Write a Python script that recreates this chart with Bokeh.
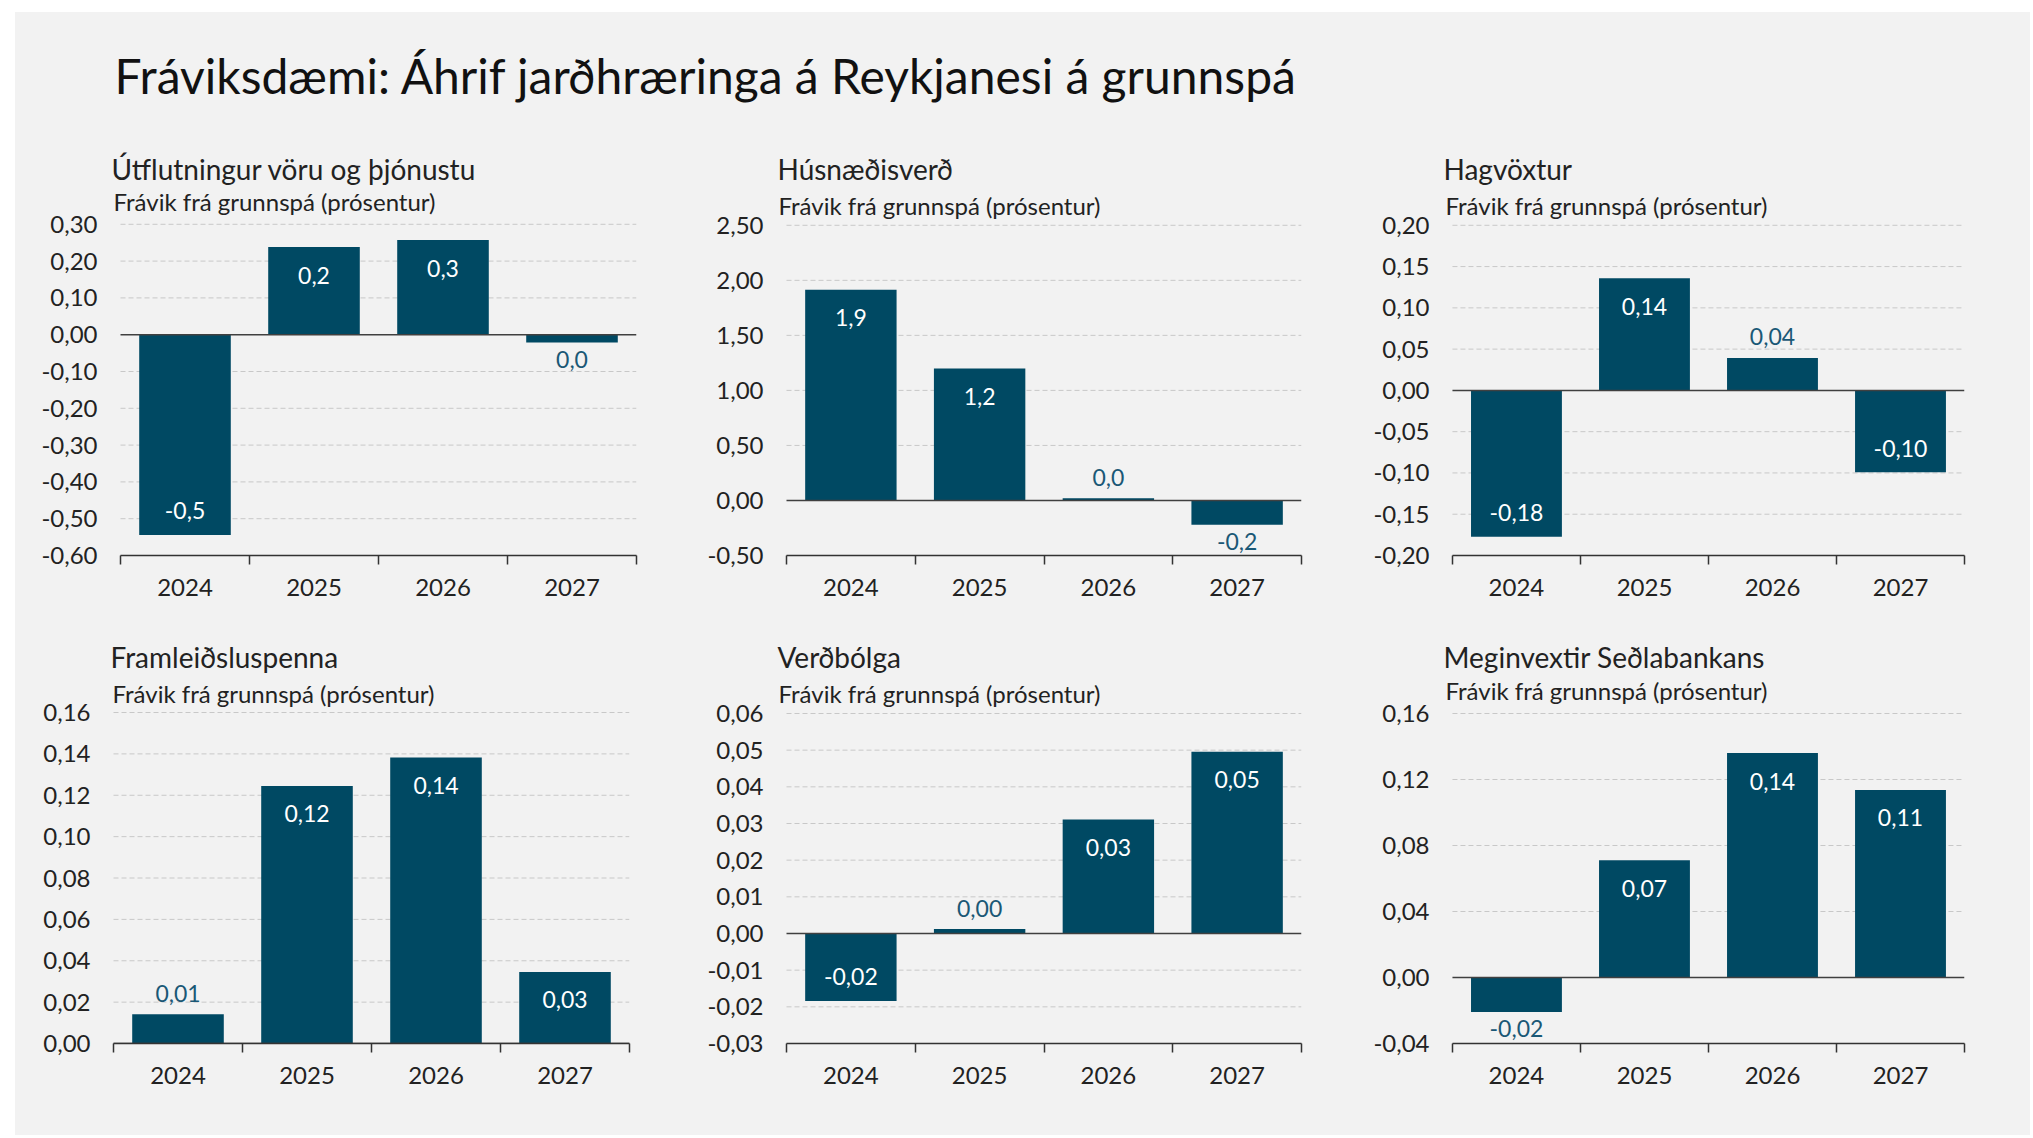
from bokeh.plotting import figure
from bokeh.models import (ColumnDataSource, Range1d, FixedTicker, Label)
from bokeh.layouts import column, row
from bokeh.core.properties import value
from bokeh.embed import file_html
from bokeh.resources import INLINE

# ---------------- data ----------------
main_title = "Fráviksdæmi: Áhrif jarðhræringa á Reykjanesi á grunnspá"
subtitle = "Frávik frá grunnspá (prósentur)"
years = ["2024", "2025", "2026", "2027"]

titles = ["Útflutningur vöru og þjónustu", "Húsnæðisverð", "Hagvöxtur",
          "Framleiðsluspenna", "Verðbólga", "Meginvextir Seðlabankans"]

utflutningur = [-0.544, 0.238, 0.257, -0.021]
husnaedisverd = [1.915, 1.199, 0.021, -0.221]
hagvoxtur = [-0.1774, 0.136, 0.0393, -0.0993]
framleidsluspenna = [0.0141, 0.1245, 0.1383, 0.0346]
verdbolga = [-0.0184, 0.0012, 0.0311, 0.0496]
meginvextir = [-0.0209, 0.0710, 0.136, 0.1137]

ticks_1 = [-0.6, -0.5, -0.4, -0.3, -0.2, -0.1, 0.0, 0.1, 0.2, 0.3]
ticks_2 = [-0.5, 0.0, 0.5, 1.0, 1.5, 2.0, 2.5]
ticks_3 = [-0.2, -0.15, -0.1, -0.05, 0.0, 0.05, 0.1, 0.15, 0.2]
ticks_4 = [0.0, 0.02, 0.04, 0.06, 0.08, 0.10, 0.12, 0.14, 0.16]
ticks_5 = [-0.03, -0.02, -0.01, 0.0, 0.01, 0.02, 0.03, 0.04, 0.05, 0.06]
ticks_6 = [-0.04, 0.0, 0.04, 0.08, 0.12, 0.16]

label_decimals = [1, 1, 2, 2, 2, 2]

# ---------------- style ----------------
BG = "#f2f2f2"
BAR = "#004963"
OUT_LBL = "#1a5876"
TXT = "#222222"
AXIS = "#333333"
FONT = "Lato"
TITLE_PX, SUB_PX, MAIN_PX = 28, 24, 48
LIFT = 0.22   # baseline correction for Label text (em)
NUDGE = 4     # extra upward correction (px)


def fmt(v, d):
    s = f"{v:.{d}f}"
    if float(s) == 0:
        s = s.lstrip("-")
    return s.replace(".", ",")


def blank(w, h, color):
    f = figure(width=w, height=h, output_backend="svg", toolbar_location=None,
               x_range=Range1d(0, 1), y_range=Range1d(0, 1), title=None,
               min_border=0, x_axis_type=None, y_axis_type=None)
    f.background_fill_color = color
    f.border_fill_color = color
    f.outline_line_color = None
    f.xgrid.grid_line_color = None
    f.ygrid.grid_line_color = None
    return f


def make_panel(title, vals, ticks, dec, cx, cy, W, H, frame, title_xy, sub_xy):
    l, r, t, b = frame                      # plotting-area box (absolute px)
    L = min(title_xy[0], sub_xy[0]) - 3     # extended frame (holds the titles)
    T = title_xy[1] - 40
    ymin, ymax = ticks[0], ticks[-1]
    ppu = (b - t) / (ymax - ymin)
    ppx = (r - l) / 4.0
    p = figure(width=W, height=H, output_backend="svg", toolbar_location=None,
               x_range=Range1d(-(l - L) / ppx, 4),
               y_range=Range1d(ymin, ymax + (t - T) / ppu),
               min_border_left=L - cx, min_border_right=cx + W - r,
               min_border_top=T - cy, min_border_bottom=cy + H - b)
    p.background_fill_color = BG
    p.border_fill_color = BG
    p.outline_line_color = None
    p.xgrid.grid_line_color = None
    p.ygrid.grid_line_color = None

    # dashed grid + solid zero line, only across the 4 categories
    gy = [v for v in ticks if v != ymin and abs(v) > 1e-12]
    p.segment(x0=[0] * len(gy), x1=[4] * len(gy), y0=gy, y1=gy,
              line_color="#c8c8c8", line_width=1, line_dash="5 3")

    xs = [i + 0.5 for i in range(len(years))]
    offs, cols, txt = [], [], []
    for v in vals:
        inside = abs(v) * ppu > 50
        if v >= 0:
            offs.append(28 if inside else -21)
        else:
            offs.append(-24 if inside else 17)
        cols.append("white" if inside else OUT_LBL)
        txt.append(fmt(v, dec))
    src = ColumnDataSource(dict(x=xs, top=vals, yo=offs, c=cols, t=txt))

    p.vbar(x="x", top="top", bottom=0, width=0.71, source=src,
           fill_color=BAR, line_color=None)
    p.segment(x0=[0], x1=[4], y0=[0], y1=[0], line_color="#404040", line_width=1.5)
    p.text(x="x", y="top", text="t", y_offset="yo", text_color="c", source=src,
           text_align="center", text_baseline="middle",
           text_font=value(FONT), text_font_size="23px")

    # axes
    p.xaxis.ticker = FixedTicker(ticks=xs, minor_ticks=[0, 1, 2, 3, 4])
    p.xaxis.bounds = (0, 4)
    p.xaxis.major_label_overrides = {x: y for x, y in zip(xs, years)}
    p.xaxis.major_tick_in = 0
    p.xaxis.major_tick_out = 0
    p.xaxis.minor_tick_in = 0
    p.xaxis.minor_tick_out = 9
    p.xaxis.minor_tick_line_color = AXIS
    p.xaxis.minor_tick_line_width = 1.5
    p.xaxis.axis_line_color = AXIS
    p.xaxis.axis_line_width = 1.5
    p.xaxis.major_label_standoff = 14
    p.xaxis.major_label_text_font = FONT
    p.xaxis.major_label_text_font_size = "24px"
    p.xaxis.major_label_text_color = TXT

    p.yaxis.ticker = FixedTicker(ticks=ticks)
    p.yaxis.major_label_overrides = {tk: fmt(tk, 2) for tk in ticks}
    p.yaxis.axis_line_color = None
    p.yaxis.major_tick_line_color = None
    p.yaxis.minor_tick_line_color = None
    p.yaxis.major_tick_in = 0
    p.yaxis.major_tick_out = 0
    p.yaxis.minor_tick_in = 0
    p.yaxis.minor_tick_out = 0
    p.yaxis.major_label_standoff = 23 - (l - L)
    p.yaxis.major_label_text_font = FONT
    p.yaxis.major_label_text_font_size = "24px"
    p.yaxis.major_label_text_color = TXT

    p.add_layout(Label(x=title_xy[0] - L,
                       y=b - title_xy[1] + LIFT * TITLE_PX + NUDGE,
                       x_units="screen", y_units="screen", text=title,
                       text_font=FONT, text_font_size=f"{TITLE_PX}px",
                       text_color=TXT, text_baseline="alphabetic"))
    p.add_layout(Label(x=sub_xy[0] - L,
                       y=b - sub_xy[1] + LIFT * SUB_PX + NUDGE,
                       x_units="screen", y_units="screen", text=subtitle,
                       text_font=FONT, text_font_size=f"{SUB_PX}px",
                       text_color=TXT, text_baseline="alphabetic"))
    return p


# absolute page layout (px); grey panel starts at (15, 12)
TOP = (12, 118)
COLS = [(15, 685), (700, 670), (1370, 660)]
ROWS = [(130, 490), (620, 515)]
frames = [  # left, right, top, bottom
    (120, 636, 223, 555), (786, 1301, 225, 556), (1450, 1964, 225, 556),
    (113, 629, 712, 1043), (786, 1301, 713, 1043), (1450, 1964, 713, 1043)]
title_abs = [(111, 179), (777, 180), (1441, 180),
             (110, 667), (777, 667), (1441, 667)]
sub_abs = [(113, 210), (778, 215), (1443, 215),
           (112, 702), (778, 702), (1443, 699)]
series = [utflutningur, husnaedisverd, hagvoxtur, framleidsluspenna,
          verdbolga, meginvextir]
tick_sets = [ticks_1, ticks_2, ticks_3, ticks_4, ticks_5, ticks_6]

figs = []
for i in range(6):
    cx, W = COLS[i % 3]
    cy, H = ROWS[i // 3]
    figs.append(make_panel(titles[i], series[i], tick_sets[i], label_decimals[i],
                           cx, cy, W, H, frames[i], title_abs[i], sub_abs[i]))

total_w = sum(w for _, w in COLS)
total_h = TOP[1] + sum(h for _, h in ROWS)

# title strip
tf = blank(total_w, TOP[1], BG)
tf.add_layout(Label(x=114 - COLS[0][0],
                    y=TOP[1] - (90 - TOP[0]) + LIFT * MAIN_PX + NUDGE,
                    x_units="screen", y_units="screen",
                    text=main_title, text_font=FONT, text_font_size=f"{MAIN_PX}px",
                    text_color="#111111", text_baseline="alphabetic"))

body = column(tf, row(*figs[:3], spacing=0), row(*figs[3:], spacing=0),
              spacing=0, styles={"background-color": BG})
layout = column(blank(COLS[0][0] + total_w, TOP[0], "#ffffff"),
                row(blank(COLS[0][0], total_h, "#ffffff"), body, spacing=0),
                spacing=0)

open("out.html", "w").write(file_html(layout, INLINE))
